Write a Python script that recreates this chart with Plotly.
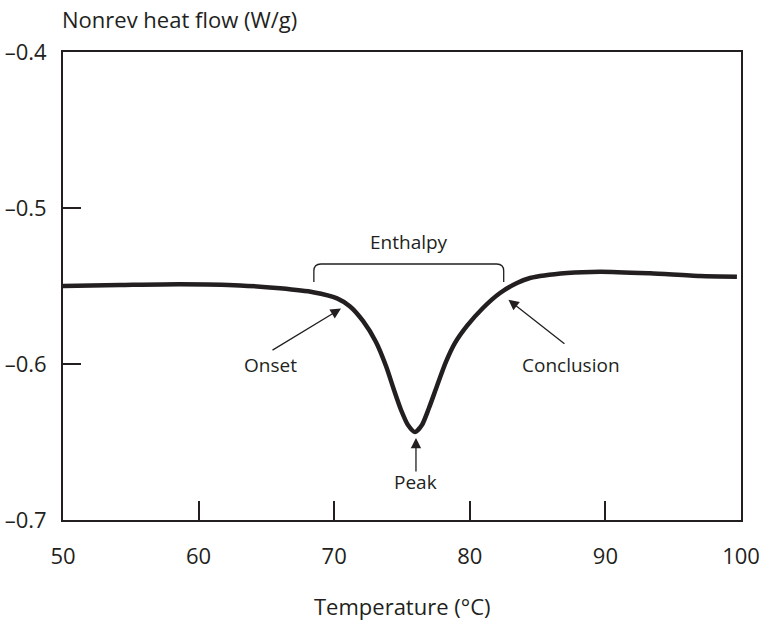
import plotly.graph_objects as go

# ---- data ----
temperature = [50.00, 54.20, 58.63, 63.05, 66.00, 68.44, 70.21, 71.17, 72.12, 73.08,
               73.82, 74.41, 74.93, 75.44, 75.96, 76.47, 76.99, 77.58, 78.24, 78.91,
               79.79, 80.97, 82.23, 83.48, 84.44, 87.17, 89.60, 93.29, 96.98, 99.70]
heat_flow = [-0.5500, -0.5494, -0.5489, -0.5496, -0.5515, -0.5540, -0.5579, -0.5631,
             -0.5724, -0.5859, -0.6013, -0.6167, -0.6295, -0.6391, -0.6436, -0.6391,
             -0.6282, -0.6141, -0.5987, -0.5865, -0.5756, -0.5641, -0.5545, -0.5481,
             -0.5449, -0.5417, -0.5408, -0.5419, -0.5436, -0.5440]

x_ticks = [50, 60, 70, 80, 90, 100]
x_tick_labels = ["50", "60", "70", "80", "90", "100"]
y_ticks = [-0.7, -0.6, -0.5, -0.4]
y_tick_labels = ["\u20130.7", "\u20130.6", "\u20130.5", "\u20130.4"]

# annotation anchor points (data coordinates): label, text pos, arrow tail, arrow tip
onset = dict(text="Onset", tx=65.3, ty=-0.6006, tail=(65.34, -0.5917), tip=(70.5, -0.5645))
conclusion = dict(text="Conclusion", tx=87.46, ty=-0.6006, tail=(87.09, -0.5878), tip=(82.85, -0.5588))
peak = dict(text="Peak", tx=76.03, ty=-0.6756, tail=(76.03, -0.6699), tip=(76.03, -0.6474))
enthalpy = dict(text="Enthalpy", tx=75.52, ty=-0.5218)
bracket_left, bracket_right = 68.5, 82.5
bracket_top, bracket_bottom = -0.5359, -0.5474

INK = "#231f20"
FONT = "Open Sans"

fig = go.Figure()
fig.add_trace(go.Scatter(
    x=temperature, y=heat_flow, mode="lines",
    line=dict(color=INK, width=4.5, shape="spline", smoothing=0.7),
    hoverinfo="skip", showlegend=False,
))

annotations = []
for a in (onset, conclusion, peak):
    annotations.append(dict(
        x=a["tip"][0], y=a["tip"][1], ax=a["tail"][0], ay=a["tail"][1],
        xref="x", yref="y", axref="x", ayref="y", text="",
        showarrow=True, arrowhead=2, arrowsize=1.6, arrowwidth=1.3, arrowcolor=INK,
    ))
    annotations.append(dict(
        x=a["tx"], y=a["ty"], xref="x", yref="y", text=a["text"], showarrow=False,
        font=dict(family=FONT, size=19, color=INK), xanchor="center", yanchor="middle",
    ))
annotations.append(dict(
    x=enthalpy["tx"], y=enthalpy["ty"], xref="x", yref="y", text=enthalpy["text"],
    showarrow=False, font=dict(family=FONT, size=19, color=INK),
    xanchor="center", yanchor="middle",
))
annotations.append(dict(
    x=0, y=1, xref="paper", yref="paper", xshift=-3, yshift=33,
    text="Nonrev heat flow (W/g)", showarrow=False,
    font=dict(family=FONT, size=22, color=INK), xanchor="left", yanchor="middle",
))
annotations.append(dict(
    x=0.5, y=0, xref="paper", yref="paper", yshift=-86,
    text="Temperature (\u00b0C)", showarrow=False,
    font=dict(family=FONT, size=22, color=INK), xanchor="center", yanchor="middle",
))

rx, ry = 0.52, 0.0045
bracket_path = (
    f"M {bracket_left},{bracket_bottom} L {bracket_left},{bracket_top - ry} "
    f"Q {bracket_left},{bracket_top} {bracket_left + rx},{bracket_top} "
    f"L {bracket_right - rx},{bracket_top} "
    f"Q {bracket_right},{bracket_top} {bracket_right},{bracket_top - ry} "
    f"L {bracket_right},{bracket_bottom}"
)

fig.update_layout(
    width=767, height=620,
    margin=dict(l=63, r=26, t=52, b=100, autoexpand=False),
    paper_bgcolor="white", plot_bgcolor="white",
    annotations=annotations,
    shapes=[dict(type="path", path=bracket_path, xref="x", yref="y",
                 line=dict(color=INK, width=1.3))],
    font=dict(family=FONT, size=22, color=INK),
    xaxis=dict(
        range=[50, 100], tickvals=x_ticks, ticktext=x_tick_labels,
        ticks="inside", ticklen=19, tickwidth=1.8, tickcolor=INK,
        showline=True, linecolor=INK, linewidth=2, mirror=True,
        showgrid=False, zeroline=False, ticklabelstandoff=16, automargin=False,
        tickfont=dict(family=FONT, size=22, color=INK),
    ),
    yaxis=dict(
        range=[-0.7, -0.4], tickvals=y_ticks, ticktext=y_tick_labels,
        ticks="inside", ticklen=18, tickwidth=1.8, tickcolor=INK,
        showline=True, linecolor=INK, linewidth=2, mirror=True,
        showgrid=False, zeroline=False, ticklabelstandoff=10, automargin=False,
        tickfont=dict(family=FONT, size=22, color=INK),
    ),
)

fig.write_html("out.html", config={"displayModeBar": False},
               post_script="document.body.style.margin='0';")
